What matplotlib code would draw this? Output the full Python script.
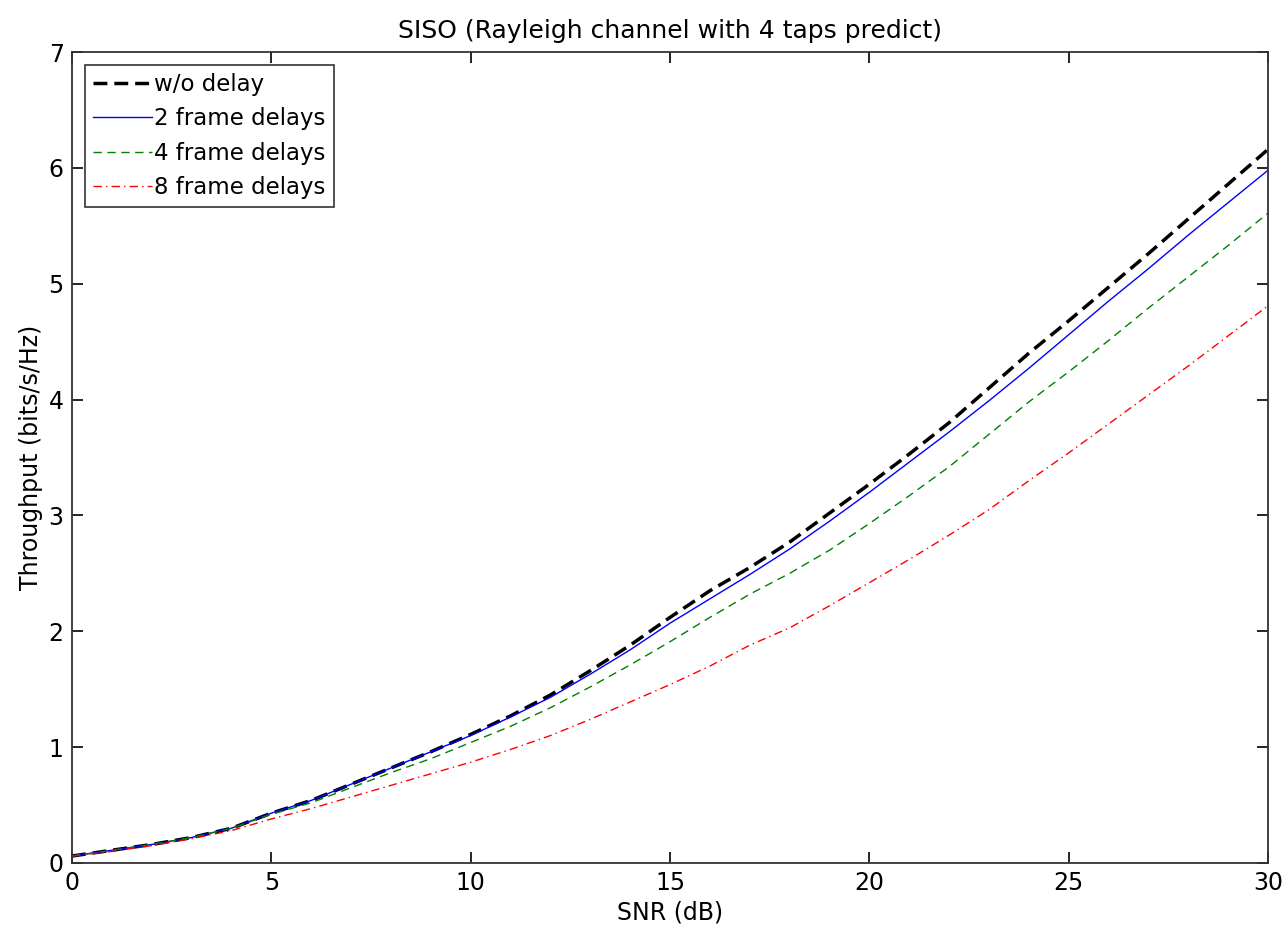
import matplotlib
matplotlib.use("Agg")
import matplotlib.pyplot as plt
import numpy as np

plt.rcParams['font.family'] = ['DejaVu Sans']

snr = list(range(0, 31))
wo_delay = [0.06, 0.11, 0.16, 0.22, 0.30, 0.43, 0.54, 0.68, 0.82, 0.96, 1.11, 1.27, 1.45, 1.66, 1.88,
            2.12, 2.35, 2.55, 2.77, 3.02, 3.27, 3.53, 3.80, 4.10, 4.40, 4.68, 4.97, 5.26, 5.56, 5.86, 6.16]
delay2 = [0.06, 0.11, 0.16, 0.22, 0.30, 0.43, 0.54, 0.68, 0.82, 0.96, 1.10, 1.26, 1.43, 1.63, 1.84,
          2.07, 2.28, 2.49, 2.71, 2.95, 3.20, 3.46, 3.72, 3.99, 4.27, 4.56, 4.85, 5.13, 5.42, 5.70, 5.98]
delay4 = [0.06, 0.11, 0.16, 0.22, 0.30, 0.42, 0.52, 0.65, 0.78, 0.90, 1.04, 1.18, 1.34, 1.52, 1.71,
          1.91, 2.12, 2.32, 2.50, 2.70, 2.93, 3.17, 3.42, 3.70, 3.98, 4.24, 4.51, 4.79, 5.06, 5.33, 5.61]
delay8 = [0.06, 0.10, 0.15, 0.21, 0.28, 0.38, 0.47, 0.57, 0.67, 0.77, 0.87, 0.98, 1.10, 1.24, 1.39,
          1.54, 1.70, 1.88, 2.03, 2.22, 2.42, 2.62, 2.83, 3.05, 3.30, 3.54, 3.79, 4.04, 4.29, 4.55, 4.81]

labels = ['w/o delay', '2 frame delays', '4 frame delays', '8 frame delays']

fig = plt.figure(figsize=(12.88, 9.36), dpi=100)
ax = fig.add_axes([0.0559, 0.078, 0.9286, 0.8664])

ax.plot(snr, wo_delay, color='black', linestyle=(0, (4, 2)), linewidth=2.5, label=labels[0])
ax.plot(snr, delay2, color='#0000ff', linestyle='-', linewidth=1.0, label=labels[1])
ax.plot(snr, delay4, color='#008000', linestyle=(0, (6, 4)), linewidth=1.0, label=labels[2])
ax.plot(snr, delay8, color='#ff0000', linestyle=(0, (6, 3, 1, 3)), linewidth=1.0, label=labels[3])

ax.set_xlim(0, 30)
ax.set_ylim(0, 7)
ax.set_xticks(range(0, 31, 5))
ax.set_yticks(range(0, 8))
ax.tick_params(direction='in', top=True, right=True, length=8, width=1.2, labelsize=17, pad=6)
for s in ax.spines.values():
    s.set_linewidth(1.3)
    s.set_color('#333333')

ax.set_xlabel('SNR (dB)', fontsize=17, labelpad=4)
ax.set_ylabel('Throughput (bits/s/Hz)', fontsize=17, labelpad=4)
ax.set_title('SISO (Rayleigh channel with 4 taps predict)', fontsize=18, pad=10)

leg = ax.legend(loc='upper left', fontsize=16.5, frameon=True, fancybox=False, handlelength=2.6,
                handletextpad=0.1, borderaxespad=0.55, labelspacing=0.5, borderpad=0.35)
leg.get_frame().set_edgecolor('black')
leg.get_frame().set_linewidth(1.2)

fig.savefig('out.png', dpi=100)
